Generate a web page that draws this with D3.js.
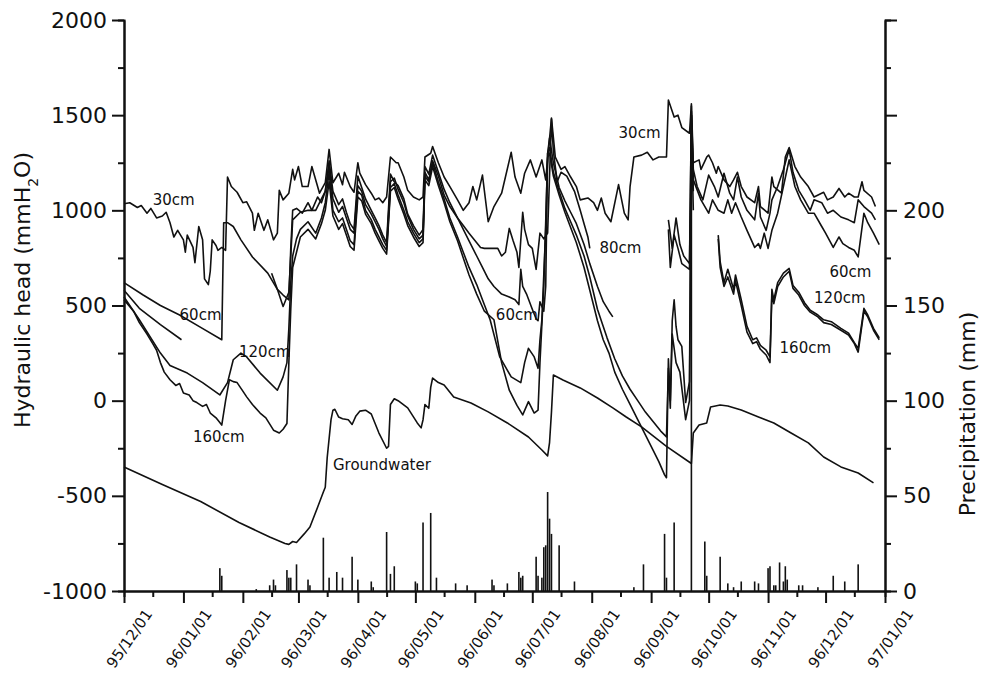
<!DOCTYPE html>
<html>
<head>
<meta charset="utf-8">
<script src="https://cdn.jsdelivr.net/npm/d3@7"></script>
<style>
  body { margin: 0; background: #fff; }
  svg { display: block; }
  text { font-family: "DejaVu Sans", sans-serif; fill: #111; }
</style>
</head>
<body>
<svg id="chart" width="982" height="674"></svg>
<script>
// values are [days since 95/12/01, head in mmH2O]; null breaks a line
const s30 = [[0,1035],[3,1040],[7,1015],[9,1025],[12,985],[14,1010],[17,960],[20,970],[22,990],[24,935],[26,860],[28,895],[31,845],[32,780],[33,870],[36,805],[37,725],[39,915],[41,845],[42,640],[44,610],[45,680],[46,845],[48,815],[49,790],[51,805],[53,790],[54,1175],[56,1125],[59,1095],[62,1040],[64,1045],[67,985],[68,895],[70,985],[73,895],[75,950],[78,845],[80,880],[81,1105],[83,1055],[86,1090],[88,1215],[89,1160],[91,1230],[93,1125],[96,1125],[98,1230],[101,1125],[102,1090],[105,1145],[107,1320],[109,1145],[112,1195],[114,1135],[115,1200],[118,1125],[120,1095],[122,1250],[123,1195],[126,1135],[129,1090],[131,1055],[133,1065],[135,1040],[137,1070],[139,1280],[142,1250],[143,1250],[146,1175],[148,1105],[151,1070],[154,1055],[156,1070],[157,1280],[160,1300],[161,1335],[164,1250],[167,1175],[170,1125],[174,1055],[177,1000],[180,1040],[182,1125],[184,1055],[187,1185],[190,940],[193,1020],[197,1090],[202,1305],[204,1175],[207,1090],[209,1195],[212,1265],[215,1175],[218,1265],[220,1160],[223,1485],[225,1280],[228,1215],[230,1230],[233,1175],[236,1125],[238,1055],[242,1065],[245,1040],[247,1000],[249,1065],[251,985],[254,940],[258,1135],[261,985],[263,950],[264,1125],[266,1280],[270,1290],[273,1305],[276,1265],[279,1280],[283,1280],[284,1580],[287,1490],[289,1500],[291,1435],[295,1405],[296,1560],[297,1250],[300,1265],[301,1215],[304,1280],[305,1290],[307,1250],[309,1195],[310,1230],[313,1160],[316,1125],[318,1160],[320,1200],[322,1125],[325,1070],[329,1040],[331,1125],[332,1020],[336,985],[338,1175],[339,1125],[343,1090],[345,1280],[347,1330],[350,1230],[353,1175],[357,1125],[360,1070],[365,1095],[367,1055],[370,1070],[373,1115],[376,1070],[378,1090],[381,1070],[383,1070],[385,1150],[386,1105],[390,1070],[392,1020]];

const s60 = [[0,620],[10,555],[19,500],[29,450],[40,385],[51,320],[52,935],[54,935],[57,915],[61,845],[67,755],[75,670],[80,585],[83,555],[86,530],[87,800],[88,1000],[90,1010],[93,985],[96,1040],[98,1000],[101,1070],[103,1040],[105,1100],[107,1260],[109,1100],[112,1030],[114,1060],[116,990],[118,930],[120,900],[122,1180],[124,1120],[126,1060],[129,1000],[131,960],[133,920],[135,870],[137,830],[139,1190],[141,1150],[143,1130],[146,1060],[148,980],[151,920],[154,870],[156,900],[157,1230],[159,1190],[161,1290],[164,1200],[167,1110],[170,1040],[174,960],[177,900],[180,840],[184,760],[187,700],[190,640],[193,600],[197,560],[201,545],[204,530],[206,505],[207,690],[208,600],[210,560],[213,480],[215,430],[216,420],[217,520],[219,470],[220,600],[221,1300],[222,1380],[224,1250],[227,1120],[230,1050],[233,990],[236,930],[240,820],[243,720],[247,600],[250,520],[253,470],[255,440],[255,null],[284,900],[285,700],[287,870],[289,800],[291,720],[295,690],[296,1500],[297,1160],[301,1055],[305,985],[307,1055],[310,1000],[313,985],[315,1055],[317,985],[319,1040],[322,965],[325,895],[329,805],[331,825],[332,800],[334,880],[336,800],[338,895],[341,985],[344,1125],[347,1265],[350,1125],[353,1055],[357,985],[360,985],[364,915],[366,880],[370,805],[373,860],[375,825],[378,805],[381,790],[383,755],[386,985],[388,935],[391,880],[394,820]];

const s80 = [[0,580],[8,485],[19,400],[30,320],[30,null],[77,670],[80,585],[83,495],[86,570],[87,760],[88,950],[92,990],[96,1000],[100,1000],[103,1060],[105,1100],[107,1230],[109,1060],[112,990],[114,1020],[116,960],[118,900],[120,880],[122,1130],[124,1100],[126,1030],[129,980],[131,940],[133,900],[135,850],[137,810],[139,1150],[141,1170],[143,1110],[146,1040],[148,970],[151,900],[154,850],[156,870],[157,1200],[159,1160],[161,1260],[164,1180],[167,1080],[170,1020],[174,960],[177,920],[180,880],[184,830],[186,805],[188,800],[190,800],[193,800],[195,800],[197,760],[199,780],[201,905],[203,840],[205,780],[206,700],[208,990],[209,900],[211,820],[213,800],[215,690],[217,880],[219,850],[221,880],[223,1480],[224,1310],[226,1150],[228,1200],[231,1180],[235,1100],[238,1000],[240,930],[242,860],[243,800],[243,null],[284,950],[286,800],[288,960],[290,820],[292,760],[295,720],[296,1520],[297,1215],[299,1125],[302,1055],[305,1185],[308,1125],[310,1070],[313,1195],[316,1090],[318,1055],[320,1175],[322,1070],[325,1000],[329,950],[331,1090],[332,965],[335,895],[337,985],[338,1055],[341,1125],[344,1215],[347,1320],[349,1200],[352,1105],[355,1055],[358,1000],[360,1055],[364,1040],[367,985],[370,1000],[374,965],[378,950],[381,935],[383,1055],[386,1020],[390,985],[392,950]];

const s120 = [[0,545],[8,425],[19,250],[24,185],[33,145],[41,95],[50,30],[54,95],[57,215],[61,250],[64,230],[71,145],[80,55],[83,125],[85,200],[86,380],[87,620],[88,760],[90,850],[92,900],[96,940],[100,880],[103,960],[105,1040],[107,1200],[109,1000],[112,940],[114,960],[116,900],[118,840],[120,820],[122,1100],[124,1080],[126,1000],[129,950],[131,900],[133,860],[135,820],[137,790],[139,1120],[141,1140],[143,1080],[146,1000],[148,940],[151,880],[154,830],[156,850],[157,1180],[159,1150],[161,1250],[164,1150],[167,1060],[170,960],[174,860],[177,780],[180,700],[184,610],[187,530],[191,425],[196,230],[202,125],[207,95],[209,200],[211,275],[214,230],[216,170],[217,320],[218,425],[220,900],[221,1300],[222,1330],[224,1200],[227,1100],[230,1010],[233,940],[236,870],[240,760],[243,650],[247,480],[249,420],[252,330],[256,220],[260,130],[264,60],[268,0],[272,-60],[276,-110],[280,-160],[283,-190],[284,170],[285,-40],[286,420],[287,530],[288,390],[289,320],[291,285],[293,-10],[295,100],[296,1500],[297,1100],[297,null],[310,870],[311,730],[313,620],[315,690],[318,585],[319,660],[322,530],[325,390],[328,320],[330,330],[332,290],[335,265],[337,230],[338,585],[339,530],[341,620],[344,670],[347,695],[349,605],[352,570],[355,515],[358,475],[362,450],[365,425],[369,415],[374,380],[378,355],[381,305],[383,275],[386,485],[388,450],[391,380],[394,330]];

const s160 = [[0,530],[5,470],[8,410],[12,350],[15,300],[17,265],[19,200],[21,150],[24,110],[27,80],[29,90],[31,40],[34,30],[36,0],[38,-10],[41,-30],[43,-20],[45,-65],[48,-90],[51,-128],[53,0],[55,110],[57,100],[59,95],[62,50],[64,20],[67,-20],[71,-65],[74,-90],[78,-155],[81,-170],[83,-150],[85,-120],[86,200],[87,480],[88,700],[90,780],[92,860],[96,900],[100,850],[103,930],[105,1000],[107,1150],[109,970],[112,900],[114,930],[116,870],[118,810],[120,790],[122,1070],[124,1050],[126,980],[129,930],[131,880],[133,840],[135,800],[137,770],[139,1100],[141,1120],[143,1060],[146,980],[148,920],[151,860],[154,810],[156,830],[157,1160],[159,1130],[161,1230],[164,1130],[167,1040],[170,940],[174,840],[177,750],[180,660],[184,560],[188,470],[193,425],[197,200],[201,55],[205,-25],[208,-75],[211,-5],[214,-65],[216,-50],[217,200],[219,600],[221,1280],[222,1300],[224,1180],[227,1080],[230,990],[233,910],[236,830],[240,700],[243,580],[247,420],[250,320],[253,250],[256,150],[260,60],[264,-20],[268,-100],[272,-180],[276,-260],[279,-320],[282,-390],[283,-405],[284,220],[285,0],[286,350],[288,200],[290,150],[293,-100],[295,0],[296,1450],[297,1000],[297,null],[310,850],[311,700],[313,600],[315,650],[318,560],[319,630],[322,500],[325,360],[328,300],[330,310],[332,270],[335,240],[337,200],[338,560],[339,510],[341,600],[344,650],[347,680],[349,590],[352,555],[355,500],[358,465],[362,440],[365,410],[369,400],[374,370],[378,345],[381,300],[383,255],[386,470],[388,440],[391,370],[394,320]];

const groundwater = [[0,-348],[20,-440],[40,-530],[60,-640],[76,-716],[84,-750],[86,-755],[88,-740],[90,-745],[94,-700],[97,-664],[101,-560],[104,-480],[105,-455],[106,-300],[108,-100],[109,-50],[110,-45],[112,-86],[114,-95],[117,-100],[119,-125],[121,-80],[123,-55],[126,-50],[129,-70],[133,-170],[137,-250],[138,-240],[139,-20],[141,10],[143,0],[148,-38],[153,-117],[155,-143],[156,-100],[157,-20],[159,-40],[160,70],[161,119],[164,95],[167,82],[172,19],[181,-12],[190,-59],[200,-117],[211,-191],[218,-259],[221,-290],[222,-220],[223,-60],[224,135],[229,109],[238,67],[247,14],[255,-38],[262,-86],[270,-138],[283,-240],[296,-330],[297,-170],[300,-128],[304,-117],[306,-33],[311,-23],[315,-28],[322,-49],[331,-86],[339,-117],[348,-170],[357,-222],[365,-296],[374,-348],[383,-380],[391,-432]];

// daily precipitation [days since 95/12/01, mm]
const rain = [[50,12],[51,8],[69,1],[76,3],[78,6],[79,3],[85,11],[86,7],[87,7],[90,14],[96,6],[97,3],[104,28],[107,7],[111,10],[114,7],[119,18],[122,6],[129,5],[130,2],[137,31],[139,9],[141,13],[152,5],[153,4],[156,36],[160,41],[163,7],[173,4],[179,3],[192,6],[193,3],[200,4],[206,10],[207,7],[208,8],[215,18],[216,8],[218,7],[219,23],[220,24],[221,52],[222,38],[223,30],[227,24],[235,5],[266,2],[271,14],[282,30],[283,7],[287,36],[296,255],[303,26],[304,8],[311,18],[315,4],[318,2],[322,5],[329,5],[331,4],[336,12],[337,13],[339,3],[340,3],[342,15],[344,5],[345,13],[346,6],[352,3],[354,3],[362,2],[370,8],[376,5],[383,14]];

const headTicks = [-1000, -500, 0, 500, 1000, 1500, 2000];
const rainTicks = [0, 50, 100, 150, 200, 250, 300];
const rainLabelled = [0, 50, 100, 150, 200];

// curve labels: [text, day, head]
const notes = [["30cm",15,1028],["60cm",29,424],["120cm",60,230],["160cm",36,-217],["Groundwater",109,-364],
  ["60cm",194,424],["80cm",248,776],["30cm",258,1380],["60cm",368,650],["120cm",360,513],["160cm",342,250]];

const start = new Date(1995, 11, 1);
const day = d => d3.timeDay.offset(start, d);

const svg = d3.select("#chart");
const x = d3.scaleTime().domain([start, new Date(1997, 0, 1)]).range([124, 885]);
const y = d3.scaleLinear().domain([-1000, 2000]).range([591, 20]);
const yr = d3.scaleLinear().domain([0, 300]).range([591, 20]);

// precipitation bars
svg.append("g").selectAll("rect")
  .data(rain)
  .join("rect")
  .attr("x", d => x(day(d[0])) - 0.8)
  .attr("width", 1.6)
  .attr("y", d => yr(d[1]))
  .attr("height", d => yr(0) - yr(d[1]))
  .attr("fill", "#111");

const line = d3.line()
  .defined(d => d[1] !== null)
  .x(d => x(day(d[0])))
  .y(d => y(d[1]));

[s30, s60, s80, s120, s160, groundwater].forEach(s => {
  svg.append("path")
    .attr("d", line(s))
    .attr("fill", "none")
    .attr("stroke", "#111")
    .attr("stroke-width", 1.6)
    .attr("stroke-linejoin", "round");
});

// left axis
const gl = svg.append("g").attr("transform", "translate(124,0)");
gl.call(d3.axisLeft(y).tickValues(headTicks).tickSize(12).tickSizeOuter(0).tickPadding(5)
  .tickFormat(d => String(d)));
gl.append("g").call(d3.axisLeft(y).tickValues(d3.range(-750, 2000, 500)).tickSize(6).tickFormat(""));

// right axis
const gr = svg.append("g").attr("transform", "translate(885,0)");
gr.call(d3.axisRight(yr).tickValues(rainTicks).tickSize(12).tickSizeOuter(0).tickPadding(6)
  .tickFormat(d => rainLabelled.includes(d) ? String(d) : ""));
gr.append("g").call(d3.axisRight(yr).tickValues(d3.range(25, 300, 50)).tickSize(6).tickFormat(""));

// bottom axis
const gb = svg.append("g").attr("transform", "translate(0,591)");
gb.call(d3.axisBottom(x).ticks(d3.timeMonth.every(1)).tickSize(12).tickSizeOuter(0).tickFormat(""));
gb.append("g").call(d3.axisBottom(x)
  .tickValues(d3.timeMonth.range(start, new Date(1997, 0, 1)).map(m => d3.timeDay.offset(m, 15)))
  .tickSize(6).tickFormat(""));
gb.selectAll("text.date").data(d3.timeMonth.range(start, new Date(1997, 0, 2)))
  .join("text")
  .attr("class", "date")
  .attr("transform", d => `translate(${x(d) + 29},23) rotate(-55)`)
  .attr("text-anchor", "end")
  .style("font-size", "15px")
  .text(d3.timeFormat("%y/%m/%d"));

svg.selectAll(".domain, .tick line").attr("stroke", "#111").attr("stroke-width", 2);
svg.selectAll(".tick text").style("font-size", "22px").attr("fill", "#111");

// axis titles
const tl = svg.append("text")
  .attr("transform", "translate(30,290) rotate(-90)")
  .attr("text-anchor", "middle")
  .style("font-size", "22px");
tl.append("tspan").text("Hydraulic head (mmH");
tl.append("tspan").attr("baseline-shift", "sub").style("font-size", "14px").text("2");
tl.append("tspan").text("O)");

svg.append("text")
  .attr("transform", "translate(975,414) rotate(-90)")
  .attr("text-anchor", "middle")
  .style("font-size", "22px")
  .text("Precipitation (mm)");

// curve labels
svg.append("g").selectAll("text")
  .data(notes)
  .join("text")
  .attr("x", d => x(day(d[1])))
  .attr("y", d => y(d[2]))
  .style("font-size", "15px")
  .text(d => d[0]);
</script>
</body>
</html>
